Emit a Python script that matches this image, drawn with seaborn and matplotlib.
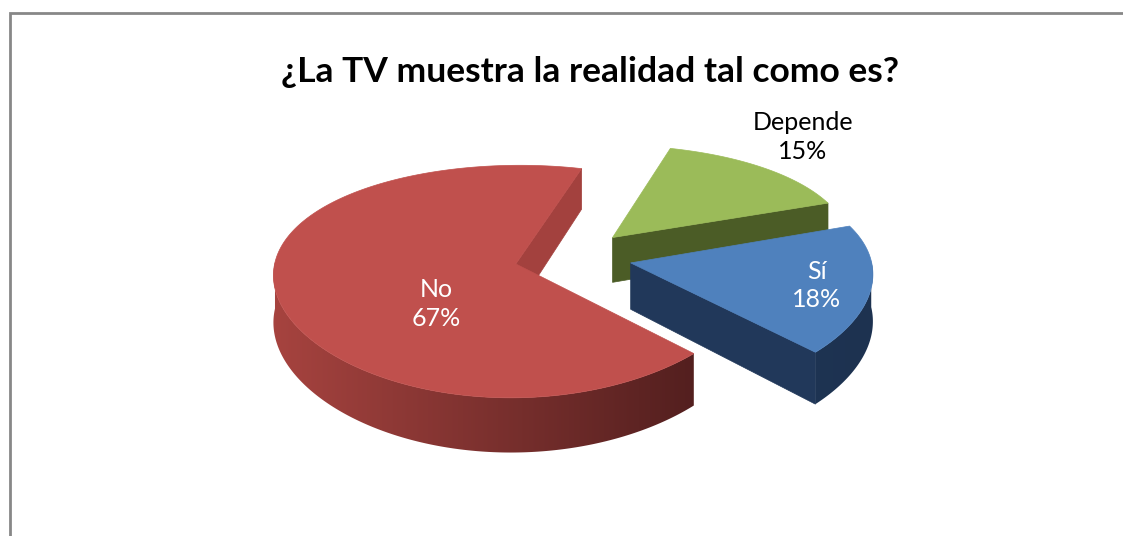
import numpy as np
import matplotlib
matplotlib.use("Agg")
import matplotlib.pyplot as plt
import matplotlib.colors as mcolors
from matplotlib.patches import Polygon
from matplotlib.lines import Line2D
import seaborn as sns

# Survey answers
categories = ["Sí", "No", "Depende"]
shares = [18, 67, 15]
share_labels = ["18%", "67%", "15%"]
title_text = "¿La TV muestra la realidad tal como es?"

# Styling per slice
top_colors = ["#4F81BD", "#C0504D", "#9BBB59"]
cut_colors = ["#21385A", "#A3413E", "#4B5C26"]
wall_light = ["#253F63", "#A6433F", "#5A6E2E"]
wall_dark = ["#1D3250", "#471A1A", "#3E4D1F"]
label_colors = ["white", "white", "black"]
EXPLODE = 0.245  # every slice pulled out along its mid angle
# label anchor (radius, angle in degrees) measured from each slice's apex
label_anchor = [(0.78, -14.3), (0.46, 226.6), (1.42, 51.2)]

sns.set_theme(style="white")
plt.rcParams["font.family"] = ["Lato", "DejaVu Sans"]

W, H = 1123, 536
fig = plt.figure(figsize=(W / 100, H / 100), dpi=100)
ax = fig.add_axes([0, 0, 1, 1])
ax.axis("off")

# projection of the tilted 3-D disc
CX, CY = 573.0, 257.0
RX, RY = 240.0, 111.5
THICK = 46.0
PERSP_X, PERSP_Y = 0.08, 0.15
START = 20.0  # slices run clockwise from this angle


def project(X, Y, Z=0.0):
    X = np.asarray(X, dtype=float)
    Y = np.asarray(Y, dtype=float)
    gx = 1.0 / (1.0 + PERSP_X * Y)
    gy = 1.0 / (1.0 + PERSP_Y * Y)
    return CX + RX * X * gx, CY - RY * Y * gy - THICK * Z * gy


def side_polygon(px, py):
    tx, ty = project(px, py, 0)
    bx, by = project(px, py, -1)
    return np.column_stack([np.r_[tx, bx[::-1]], np.r_[ty, by[::-1]]])


total = float(sum(shares))
slices = []
a0 = START
for i, v in enumerate(shares):
    span = 360.0 * v / total
    lo, hi = np.radians(a0 - span), np.radians(a0)
    a0 -= span
    mid = (lo + hi) / 2
    ox, oy = EXPLODE * np.cos(mid), EXPLODE * np.sin(mid)
    front = oy + min(np.sin(np.linspace(lo, hi, 200)))
    slices.append(dict(i=i, lo=lo, hi=hi, ox=ox, oy=oy, front=front))

# paint from back to front
slices.sort(key=lambda s: -s["front"])

z = 1
for s in slices:
    i, lo, hi, ox, oy = s["i"], s["lo"], s["hi"], s["ox"], s["oy"]
    ts = np.linspace(lo, hi, 400)
    ex, ey = ox + np.cos(ts), oy + np.sin(ts)

    # radial cut faces facing the viewer
    for ang, vis in ((lo, np.cos(lo) > 0), (hi, np.cos(hi) < 0)):
        if vis:
            poly = side_polygon([ox, ox + np.cos(ang)], [oy, oy + np.sin(ang)])
            ax.add_patch(Polygon(poly, closed=True, facecolor=cut_colors[i],
                                 edgecolor=cut_colors[i], lw=0.5, zorder=z))
            z += 1

    # curved outer wall on the front half, with a horizontal shading ramp
    front_t = ts[np.sin(ts) <= 0.02]
    if len(front_t) > 1:
        poly = side_polygon(ox + np.cos(front_t), oy + np.sin(front_t))
        clip = Polygon(poly, closed=True, facecolor="none", edgecolor="none")
        ax.add_patch(clip)
        x0, x1 = poly[:, 0].min() - 2, poly[:, 0].max() + 2
        y0, y1 = poly[:, 1].min() - 2, poly[:, 1].max() + 2
        apex_x = float(project(ox, 0.0)[0])
        xs = np.linspace(x0, x1, 300)
        u = np.clip((xs - apex_x) / RX, -1, 1)
        w = ((1 - u) / 2)[:, None]
        c_l = np.array(mcolors.to_rgb(wall_light[i]))
        c_d = np.array(mcolors.to_rgb(wall_dark[i]))
        ramp = (c_l * w + c_d * (1 - w))[None, :, :]
        img = ax.imshow(np.repeat(ramp, 2, axis=0), extent=(x0, x1, y1, y0),
                        aspect="auto", interpolation="bilinear", zorder=z)
        img.set_clip_path(clip)
        z += 1

    # top face
    tx, ty = project(np.r_[ox, ex], np.r_[oy, ey], 0)
    ax.add_patch(Polygon(np.column_stack([tx, ty]), closed=True, zorder=z,
                         facecolor=top_colors[i], edgecolor=top_colors[i], lw=0.5))
    z += 1

# labels
for i, (cat, lab) in enumerate(zip(categories, share_labels)):
    s = next(q for q in slices if q["i"] == i)
    r, ang = label_anchor[i]
    lx, ly = project(s["ox"] + r * np.cos(np.radians(ang)),
                     s["oy"] + r * np.sin(np.radians(ang)), 0)
    ax.text(float(lx), float(ly), f"{cat}\n{lab}", ha="center", va="center",
            fontsize=18, color=label_colors[i], linespacing=1.3, zorder=50)

ax.text(590, 72, title_text, ha="center", va="center", fontsize=25.5,
        fontweight="bold", color="black", zorder=50)

# chart frame
ax.add_line(Line2D([9.5, 9.5, W + 5], [H + 5, 12.5, 12.5], color="#878787",
                   lw=2.0, solid_joinstyle="miter", zorder=60))

ax.set_xlim(0, W)
ax.set_ylim(H, 0)
fig.savefig("out.png", dpi=100)
